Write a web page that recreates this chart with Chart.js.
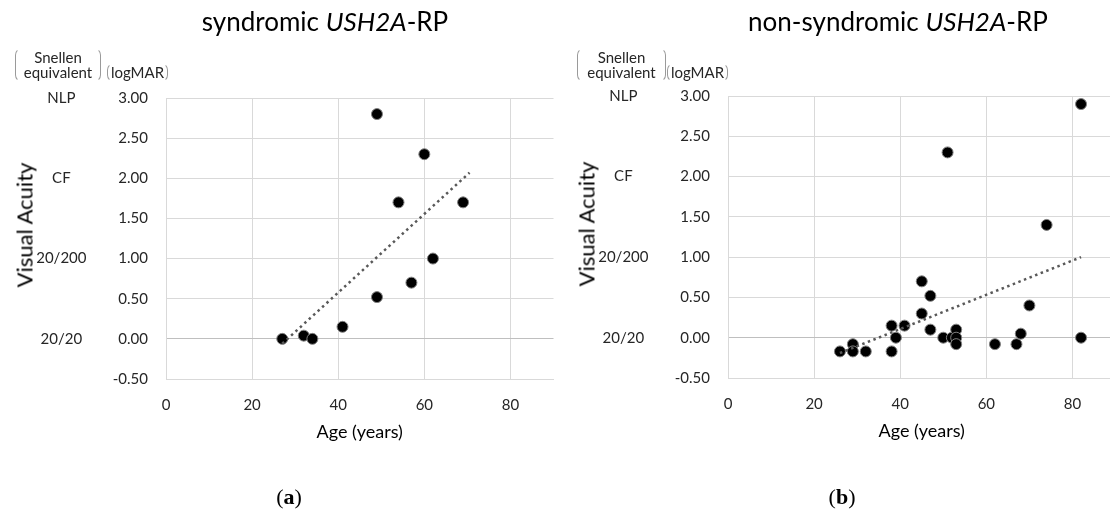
<!DOCTYPE html>
<html>
<head>
<meta charset="utf-8">
<script src="https://cdn.jsdelivr.net/npm/chart.js@4/dist/chart.umd.min.js"></script>
<style>
body{margin:0;width:1110px;height:510px;overflow:hidden;background:#fff;position:relative;font-family:Lato,sans-serif;color:#262626}
.box{position:absolute;top:0;width:560px;height:510px}
.title{position:absolute;top:5px;font-size:26px;color:#000;white-space:nowrap;transform:translateX(-50%)}
.ytitle{position:absolute;font-size:22px;color:#000;white-space:nowrap;transform:translate(-50%,-50%) rotate(-90deg)}
.brk{position:absolute;font-size:15px;line-height:15px;text-align:center;border:1px solid transparent;border-left-color:#9a9a9a;border-right-color:#9a9a9a;border-radius:7px;box-sizing:border-box;padding-top:1px}
.cap{position:absolute;top:484px;font-family:"Liberation Serif",serif;font-size:22px;color:#000;transform:translateX(-50%)}
</style>
</head>
<body>
<div class="box" style="left:0"><canvas id="chartA" width="560" height="510"></canvas></div>
<div class="box" style="left:562px"><canvas id="chartB" width="560" height="510"></canvas></div>

<div class="title" style="left:325px">syndromic <i>USH2A</i>-RP</div>
<div class="title" style="left:898px">non-syndromic <i>USH2A</i>-RP</div>

<div class="brk" style="left:15px;top:48px;width:86px;height:34px">Snellen<br>equivalent</div>
<div class="brk" style="left:107px;top:63px;width:61px;height:19px">logMAR</div>
<div class="brk" style="left:577px;top:48px;width:89px;height:34px">Snellen<br>equivalent</div>
<div class="brk" style="left:667px;top:63px;width:61px;height:19px">logMAR</div>

<div class="ytitle" style="left:24px;top:225px">Visual Acuity</div>
<div class="ytitle" style="left:586px;top:224px">Visual Acuity</div>

<div class="cap" style="left:289px">(<b>a</b>)</div>
<div class="cap" style="left:842px">(<b>b</b>)</div>

<script>
// (a) syndromic
const agesA = [27, 32, 34, 41, 49, 49, 54, 57, 60, 62, 69]
const vaA = [0.00, 0.04, 0.00, 0.15, 0.52, 2.80, 1.70, 0.70, 2.30, 1.00, 1.70]
const trendAgesA = [27, 70.5]
const trendVaA = [-0.06, 2.07]

// (b) non-syndromic
const agesB = [26, 29, 29, 32, 38, 38, 39, 41, 45, 45, 47, 47, 50, 51, 52, 53, 53, 53, 62, 67, 68, 70, 74, 82, 82]
const vaB = [-0.17, -0.08, -0.17, -0.17, 0.15, -0.17, 0.00, 0.15, 0.70, 0.30, 0.52, 0.10, 0.00, 2.30, 0.00, 0.10, 0.00, -0.08, -0.08, -0.08, 0.05, 0.40, 1.40, 2.90, 0.00]
const trendAgesB = [26, 82]
const trendVaB = [-0.19, 1.00]

// snellen equivalents shown next to logMAR
const snellenValues = [3, 2, 1, 0]
const snellenLabels = ["NLP", "CF", "20/200", "20/20"]

Chart.defaults.font.family = "Lato"
Chart.defaults.color = "#262626"

const gridColor = "#d9d9d9"

function toPoints(xs, ys){
return xs.map((x,i)=>({x:x, y:ys[i]}))
}

function makeChart(id, ages, va, tAges, tVa, top, bottom){

new Chart(document.getElementById(id),{
type:"scatter",
data:{
datasets:[
{
data:toPoints(tAges, tVa),
showLine:true,
borderColor:"#595959",
borderWidth:2.5,
borderDash:[2.5,3.5],
pointRadius:0,
order:0
},
{
data:toPoints(ages, va),
pointRadius:5.5,
pointBackgroundColor:"#000",
pointBorderColor:"#808080",
pointBorderWidth:1,
order:1
}
]
},
options:{
responsive:false,
animation:false,
events:[],
layout:{padding:{top:top, bottom:bottom, left:0, right:4}},
plugins:{legend:{display:false}, tooltip:{enabled:false}},
scales:{
x:{
type:"linear",
min:0, max:90,
ticks:{stepSize:20, includeBounds:false, padding:17, font:{size:15}},
grid:{color:gridColor, drawTicks:false},
border:{color:gridColor},
title:{display:true, text:"Age (years)", font:{size:18}, color:"#000", padding:{top:0, bottom:6}},
afterFit:s=>{s.height=70}
},
y:{
type:"linear",
position:"left",
weight:0,
min:-0.5, max:3,
ticks:{stepSize:0.5, padding:18, font:{size:15}, callback:v=>v.toFixed(2)},
grid:{color:c=>c.tick && c.tick.value===0 ? "#bfbfbf" : gridColor, drawTicks:false},
border:{color:gridColor},
afterFit:s=>{s.width=60}
},
snellen:{
type:"linear",
position:"left",
weight:1,
min:-0.5, max:3,
ticks:{
stepSize:0.5, padding:11.5, crossAlign:"center", font:{size:15},
callback:v=>{
let i=snellenValues.findIndex(s=>Math.abs(s-v)<1e-6)
return i>=0 ? snellenLabels[i] : ""
}
},
grid:{display:false},
border:{display:false},
afterFit:s=>{s.width=106}
}
}
}
})

}

makeChart("chartA", agesA, vaA, trendAgesA, trendVaA, 98, 61)
makeChart("chartB", agesB, vaB, trendAgesB, trendVaB, 96, 62)
</script>
</body>
</html>
